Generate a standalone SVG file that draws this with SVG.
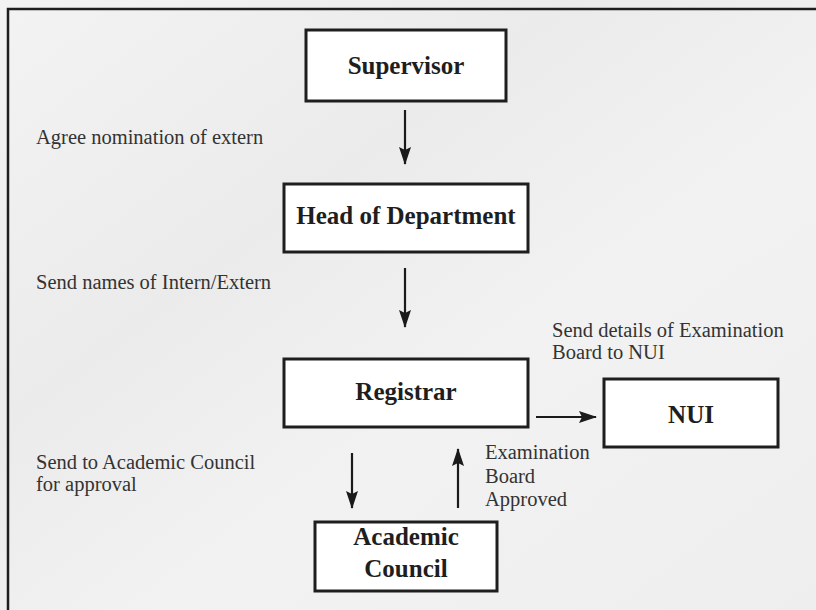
<svg xmlns="http://www.w3.org/2000/svg" width="816" height="610" viewBox="0 0 816 610">
<defs>
<linearGradient id="bg" x1="0" y1="0" x2="1" y2="1">
<stop offset="0" stop-color="#f3f3f3"/>
<stop offset="0.35" stop-color="#ebebeb"/>
<stop offset="0.6" stop-color="#f2f2f2"/>
<stop offset="1" stop-color="#eeeeee"/>
</linearGradient>
<marker id="ah" viewBox="0 0 18 12" refX="17" refY="6" markerWidth="18" markerHeight="12" markerUnits="userSpaceOnUse" orient="auto">
<path d="M0,0 L18,6 L0,12 L3,6 Z" fill="#1a1a1a"/>
</marker>
<style>
.box{fill:#ffffff;stroke:#1e1e1e;stroke-width:3}
.bt{font-family:"Liberation Serif","Times New Roman",serif;font-weight:bold;font-size:25px;fill:#1e1e1e;text-anchor:middle}
.lb{font-family:"Liberation Serif","Times New Roman",serif;font-size:20.5px;fill:#333333}
.cn{stroke:#1a1a1a;stroke-width:2.2;fill:none;marker-end:url(#ah)}
</style>
</defs>
<rect x="0" y="0" width="816" height="610" fill="url(#bg)"/>
<path d="M8,610 V9 H816" fill="none" stroke="#1e1e1e" stroke-width="2.5"/>

<g id="supervisor">
<rect class="box" x="306" y="30" width="200" height="71"/>
<text class="bt" x="406" y="74">Supervisor</text>
</g>
<g id="head">
<rect class="box" x="284" y="184" width="244" height="68"/>
<text class="bt" x="406" y="224">Head of Department</text>
</g>
<g id="registrar">
<rect class="box" x="284" y="359" width="244" height="68"/>
<text class="bt" x="406" y="400">Registrar</text>
</g>
<g id="nui">
<rect class="box" x="604" y="379" width="174" height="68"/>
<text class="bt" x="691" y="423">NUI</text>
</g>
<g id="council">
<rect class="box" x="315" y="522" width="182" height="69"/>
<text class="bt" x="406" y="545">Academic</text>
<text class="bt" x="406" y="577">Council</text>
</g>

<g id="connectors">
<line class="cn" x1="405" y1="110" x2="405" y2="164"/>
<line class="cn" x1="405" y1="268" x2="405" y2="327"/>
<line class="cn" x1="536" y1="417" x2="596" y2="417"/>
<line class="cn" x1="352" y1="453" x2="352" y2="508"/>
<line class="cn" x1="458" y1="508" x2="458" y2="449"/>
</g>

<g id="labels">
<text class="lb" x="36" y="144">Agree nomination of extern</text>
<text class="lb" x="36" y="289">Send names of Intern/Extern</text>
<text class="lb" x="552" y="337">Send details of Examination</text>
<text class="lb" x="552" y="359">Board to NUI</text>
<text class="lb" x="36" y="469">Send to Academic Council</text>
<text class="lb" x="36" y="491">for approval</text>
<text class="lb" x="485" y="459">Examination</text>
<text class="lb" x="485" y="483">Board</text>
<text class="lb" x="485" y="506">Approved</text>
</g>
</svg>
